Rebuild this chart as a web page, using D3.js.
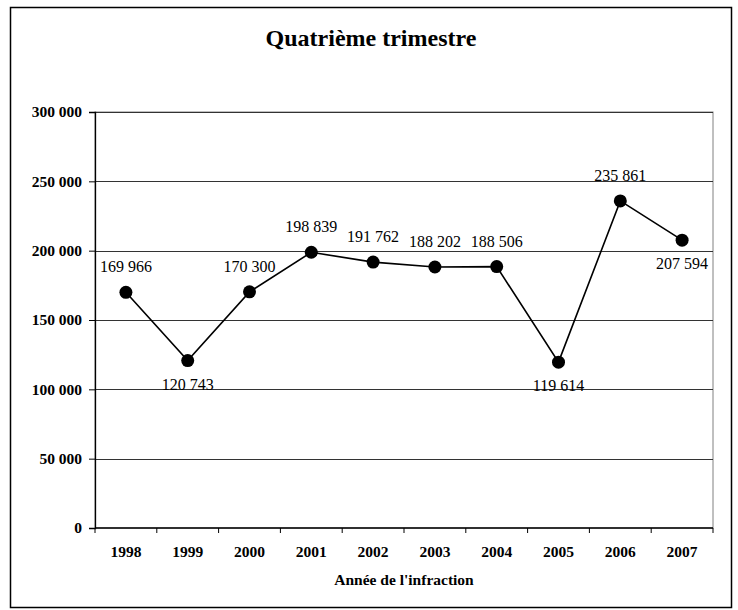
<!DOCTYPE html>
<html>
<head>
<meta charset="utf-8">
<script src="https://d3js.org/d3.v7.min.js"></script>
<style>
  body { margin: 0; background: #fff; }
  svg { display: block; }
</style>
</head>
<body>
<svg id="chart" width="738" height="610"></svg>
<script>
// data
var years = ["1998", "1999", "2000", "2001", "2002", "2003", "2004", "2005", "2006", "2007"];
var values = [169966, 120743, 170300, 198839, 191762, 188202, 188506, 119614, 235861, 207594];
var labelBelow = [false, true, false, false, false, false, false, true, false, true];
var yTicks = [0, 50000, 100000, 150000, 200000, 250000, 300000];

var svg = d3.select("#chart");
var serif = "'Liberation Serif', 'Times New Roman', serif";

var plot = { left: 95, top: 112, right: 713, bottom: 528 };

var x = d3.scaleBand()
    .domain(years)
    .range([plot.left, plot.right]);

var y = d3.scaleLinear()
    .domain([0, 300000])
    .range([plot.bottom, plot.top]);

var fmt = function(v) {
    return d3.format(",")(v).replace(/,/g, " ");
};

// outer frame
svg.append("rect")
    .attr("x", 10.5).attr("y", 7.5)
    .attr("width", 721).attr("height", 600)
    .attr("fill", "none")
    .attr("stroke", "#000")
    .attr("stroke-width", 1.5);

// title
svg.append("text")
    .attr("x", 371).attr("y", 46)
    .attr("text-anchor", "middle")
    .attr("font-family", serif)
    .attr("font-weight", "bold")
    .attr("font-size", 24)
    .text("Quatrième trimestre");

// plot frame (right/top grey)
svg.append("rect")
    .attr("x", plot.left).attr("y", plot.top)
    .attr("width", plot.right - plot.left).attr("height", plot.bottom - plot.top)
    .attr("fill", "none")
    .attr("stroke", "#808080")
    .attr("stroke-width", 1);

// gridlines
svg.append("g")
    .selectAll("line")
    .data(yTicks.filter(function(d) { return d > 0; }))
    .enter().append("line")
        .attr("x1", plot.left).attr("x2", plot.right)
        .attr("y1", function(d) { return Math.round(y(d)) + 0.5; })
        .attr("y2", function(d) { return Math.round(y(d)) + 0.5; })
        .attr("stroke", "#333")
        .attr("stroke-width", 1);

// y axis
var yAxis = svg.append("g")
    .attr("transform", "translate(" + plot.left + ",0)")
    .call(d3.axisLeft(y).tickValues(yTicks).tickFormat(fmt).tickSize(6).tickPadding(7));
yAxis.select(".domain").attr("stroke", "#000").attr("stroke-width", 1.3);
yAxis.selectAll(".tick line").attr("stroke", "#000");
yAxis.selectAll("text")
    .attr("font-family", serif)
    .attr("font-weight", "bold")
    .attr("font-size", 15.5)
    .attr("fill", "#000");

// x axis: ticks between categories
var xAxisG = svg.append("g")
    .attr("transform", "translate(0," + plot.bottom + ")");
xAxisG.append("line")
    .attr("x1", plot.left).attr("x2", plot.right)
    .attr("stroke", "#000").attr("stroke-width", 1.3);
var edges = years.map(function(d) { return x(d); }).concat([plot.right]);
xAxisG.selectAll("line.tick")
    .data(edges)
    .enter().append("line")
        .attr("class", "tick")
        .attr("x1", function(d) { return d; })
        .attr("x2", function(d) { return d; })
        .attr("y1", 0).attr("y2", 5)
        .attr("stroke", "#000");
xAxisG.selectAll("text")
    .data(years)
    .enter().append("text")
        .attr("x", function(d) { return x(d) + x.bandwidth() / 2; })
        .attr("y", 29)
        .attr("text-anchor", "middle")
        .attr("font-family", serif)
        .attr("font-weight", "bold")
        .attr("font-size", 15.5)
        .text(function(d) { return d; });

// axis title
svg.append("text")
    .attr("x", (plot.left + plot.right) / 2).attr("y", 585)
    .attr("text-anchor", "middle")
    .attr("font-family", serif)
    .attr("font-weight", "bold")
    .attr("font-size", 15.5)
    .text("Année de l'infraction");

// series
var points = years.map(function(d, i) {
    return { year: d, value: values[i], below: labelBelow[i] };
});

var line = d3.line()
    .x(function(d) { return x(d.year) + x.bandwidth() / 2; })
    .y(function(d) { return y(d.value); });

svg.append("path")
    .datum(points)
    .attr("d", line)
    .attr("fill", "none")
    .attr("stroke", "#000")
    .attr("stroke-width", 1.6);

svg.append("g")
    .selectAll("circle")
    .data(points)
    .enter().append("circle")
        .attr("cx", function(d) { return x(d.year) + x.bandwidth() / 2; })
        .attr("cy", function(d) { return y(d.value); })
        .attr("r", 6.5)
        .attr("fill", "#000");

svg.append("g")
    .selectAll("text")
    .data(points)
    .enter().append("text")
        .attr("x", function(d) { return x(d.year) + x.bandwidth() / 2; })
        .attr("y", function(d) { return y(d.value) + (d.below ? 29 : -20); })
        .attr("text-anchor", "middle")
        .attr("font-family", serif)
        .attr("font-size", 16)
        .text(function(d) { return fmt(d.value); });
</script>
</body>
</html>
